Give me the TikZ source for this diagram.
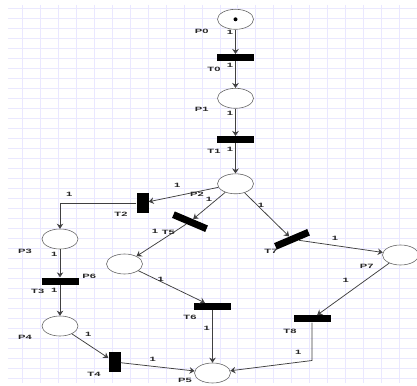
\documentclass[tikz,border=0pt]{standalone}
\usepackage{fontspec}
\setmainfont{Liberation Sans}
\usetikzlibrary{shapes.geometric,arrows.meta}
\definecolor{gridc}{RGB}{234,232,255}
\newcommand{\wl}[1]{\scalebox{1.8}[1]{#1}}
\tikzset{
  place/.style={ellipse, draw=black!60, line width=0.6pt, fill=white, minimum width=36pt, minimum height=20pt, inner sep=0pt},
  trans/.style={rectangle, fill=black, draw=none, minimum width=37pt, minimum height=7pt, inner sep=0pt},
  vtrans/.style={rectangle, fill=black, draw=none, minimum width=12pt, minimum height=20pt, inner sep=0pt},
  arc/.style={draw=black!75, line width=0.75pt, -{Stealth[length=5pt,width=6.5pt]}},
  lbl/.style={font=\bfseries\fontsize{6.2}{7}\selectfont, text=black!85, inner sep=0pt},
  gridline/.style={draw=gridc, line width=0.8pt}
}
\begin{document}
\begin{tikzpicture}[x=1pt,y=-1pt]
\useasboundingbox (0,0) rectangle (417,385);
\fill[white] (0,0) rectangle (417,385);
% grid
\foreach \i in {0,...,22} \draw[gridline] ({22.7+17.93*\i},5) -- ({22.7+17.93*\i},383);
\foreach \j in {0,...,37} \draw[gridline] (8,{8.3+10*\j}) -- (417,{8.3+10*\j});
% places
\node[place] (p0) at (235.5,19.3) {};
\fill[black] (p0.center) circle (2);
\node[place] (p1) at (235.5,98.3) {};
\node[place] (p2) at (235.5,183.8) {};
\node[place] (p3) at (60,239) {};
\node[place] (p4) at (60,326) {};
\node[place] (p6) at (124.5,264) {};
\node[place] (p5) at (212.5,373) {};
\node[place] (p7) at (400.5,255) {};
% transitions
\node[trans] (t0) at (235.5,57.7) {};
\node[trans] (t1) at (235.5,139.7) {};
\node[vtrans] (t2) at (142.5,203) {};
\node[trans] (t3) at (60,281) {};
\node[vtrans] (t4) at (114.5,362) {};
\node[trans, minimum width=36pt, rotate=-23] (t5) at (190,221.7) {};
\node[trans] (t6) at (212.5,306.5) {};
\node[trans, minimum width=36pt, rotate=23] (t7) at (292,239.3) {};
\node[trans] (t8) at (312,318.8) {};
\coordinate (c8) at (312,360.5);
% arcs
\draw[arc] (p0) -- (t0);
\draw[arc] (t0) -- (p1);
\draw[arc] (p1) -- (t1);
\draw[arc] (t1) -- (p2);
\draw[arc] (p2) -- (t2);
\draw[arc] (t2.west) -| (p3.north);
\draw[arc] (p3) -- (t3);
\draw[arc] (t3) -- (p4);
\draw[arc] (p4) -- (t4);
\draw[arc] (t4) -- (p5);
\draw[arc] (p2) -- (t5);
\draw[arc] (t5) -- (p6);
\draw[arc] (p6) -- (t6);
\draw[arc] (t6) -- (p5);
\draw[arc] (p2) -- (t7);
\draw[arc] (t7) -- (p7);
\draw[arc] (p7) -- (t8);
\draw[arc] (t8.south) -- (c8) -- (p5);
% labels
\node[lbl] (lp0) at (201.7,31) {\wl{P0}};
\node[lbl] (lt0) at (214,69) {\wl{T0}};
\node[lbl] (lp1) at (201.7,109.3) {\wl{P1}};
\node[lbl] (lt1) at (214,151.7) {\wl{T1}};
\node[lbl] (lp2) at (197,194.5) {\wl{P2}};
\node[lbl] (lt2) at (121,214.3) {\wl{T2}};
\node[lbl] (lt5) at (168.3,232.7) {\wl{T5}};
\node[lbl] (lp3) at (25,251) {\wl{P3}};
\node[lbl] (lt3) at (37.7,291.7) {\wl{T3}};
\node[lbl] (lp6) at (89.3,276.7) {\wl{P6}};
\node[lbl] (lp4) at (25,337.3) {\wl{P4}};
\node[lbl] (lt4) at (94,374.3) {\wl{T4}};
\node[lbl] (lp5) at (185,380.7) {\wl{P5}};
\node[lbl] (lt6) at (190,317.7) {\wl{T6}};
\node[lbl] (lt7) at (271,251) {\wl{T7}};
\node[lbl] (lp7) at (366.7,266.7) {\wl{P7}};
\node[lbl] (lt8) at (290,331) {\wl{T8}};
% weights
\node[lbl] (w0) at (230,32.3) {\wl{1}};
\node[lbl] (w1) at (230,65) {\wl{1}};
\node[lbl] (w2) at (230,113.3) {\wl{1}};
\node[lbl] (w3) at (230,149.3) {\wl{1}};
\node[lbl] (w4) at (177.3,185.7) {\wl{1}};
\node[lbl] (w5) at (209,199) {\wl{1}};
\node[lbl] (w6) at (69.3,194.3) {\wl{1}};
\node[lbl] (w7) at (155,231) {\wl{1}};
\node[lbl] (w8) at (54.3,254.3) {\wl{1}};
\node[lbl] (w9) at (54.3,290.7) {\wl{1}};
\node[lbl] (w10) at (88.3,334.7) {\wl{1}};
\node[lbl] (w11) at (152.7,359.3) {\wl{1}};
\node[lbl] (w12) at (160.7,279.3) {\wl{1}};
\node[lbl] (w13) at (206.7,328.3) {\wl{1}};
\node[lbl] (w14) at (261,205) {\wl{1}};
\node[lbl] (w15) at (335,238.3) {\wl{1}};
\node[lbl] (w16) at (345.7,280) {\wl{1}};
\node[lbl] (w17) at (298.3,352.7) {\wl{1}};
\end{tikzpicture}
\end{document}
